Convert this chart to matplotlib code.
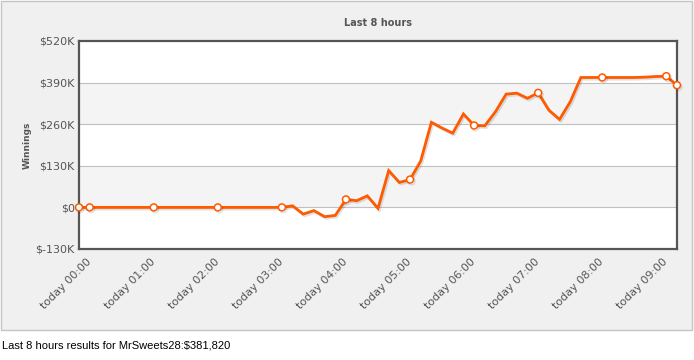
import matplotlib
matplotlib.use("Agg")
import matplotlib.pyplot as plt
import matplotlib.patheffects as pe
from matplotlib.patches import Rectangle

# datos: minutos desde las 00:00, ganancias en miles de $
minutos = list(range(-10, 551, 10))
ganancias = [0, 0,
             0, 0, 0, 0, 0,           # 00:10 - 00:50
             0, 0, 0, 0, 0, 0,        # 01:00 - 01:50
             0, 0, 0, 0, 0, 0,        # 02:00 - 02:50
             0, 5, -21, -10, -29, -25,  # 03:00 - 03:50
             25, 21, 36, -3, 115, 78,   # 04:00 - 04:50
             87, 145, 266, 248, 232, 292,  # 05:00 - 05:50
             256, 255, 299, 354, 357, 341,  # 06:00 - 06:50
             358, 304, 275, 330, 406, 406,  # 07:00 - 07:50
             406, 406, 406, 406, 407, 409,  # 08:00 - 08:50
             410, 381.82]                   # 09:00 - 09:10
horas = list(range(0, 10))
etiquetas_x = ["today {:02d}:00".format(h) for h in horas]
ticks_y = [-130, 0, 130, 260, 390, 520]
etiquetas_y = ["$-130K", "$0", "$130K", "$260K", "$390K", "$520K"]

naranja = "#ff5a00"
gris_texto = "#555555"

fig = plt.figure(figsize=(6.94, 3.60), dpi=100)
fig.patch.set_facecolor("white")

# panel de fondo
fig.patches.append(Rectangle((1 / 694, 1 - 330 / 360), 691 / 694, 329 / 360,
                             transform=fig.transFigure, facecolor="#eff0ef",
                             edgecolor="#c4c4c4", lw=1.0, zorder=0))

ax = fig.add_axes([79 / 694, 1 - 249 / 360, (677 - 79) / 694, (249 - 41) / 360])
ax.set_facecolor("white")
ax.set_zorder(1)

# bandas alternas y rejilla
for y0, y1 in [(0, 130), (260, 390)]:
    ax.axhspan(y0, y1, color="#f4f4f4", lw=0, zorder=0)
for y in [0, 130, 260, 390]:
    ax.axhline(y, color="#c0c0c0", lw=0.8, zorder=1)

marcas = [i for i, m in enumerate(minutos) if m % 60 == 0 or i == 0 or i == len(minutos) - 1]
ax.plot(minutos, ganancias, color=naranja, lw=2.0, zorder=3,
        marker="o", markevery=marcas, markersize=5, markerfacecolor="white",
        markeredgecolor=naranja, markeredgewidth=1.1, clip_on=False,
        solid_joinstyle="miter",
        path_effects=[pe.SimpleLineShadow(offset=(1, -1.2), alpha=0.12), pe.Normal()])

ax.set_xlim(-10, 550)
ax.set_ylim(-130, 520)
ax.set_xticks([h * 60 for h in horas])
ax.set_xticklabels(etiquetas_x, rotation=45, ha="right", va="center",
                   rotation_mode="anchor", fontsize=8, color=gris_texto)
ax.set_yticks(ticks_y)
ax.set_yticklabels(etiquetas_y, fontsize=8, color=gris_texto)
ax.tick_params(axis="both", length=0)
ax.tick_params(axis="y", pad=3)
ax.tick_params(axis="x", pad=8)

for s in ax.spines.values():
    s.set_color(gris_texto)
    s.set_linewidth(1.6)

fig.text(378 / 694, 1 - 23 / 360, "Last 8 hours", ha="center", va="center",
         fontsize=7, fontweight="bold", color=gris_texto)
fig.text(27 / 694, 1 - 145 / 360, "Winnings", ha="center", va="center",
         rotation=90, fontsize=6.5, fontweight="bold", color=gris_texto)
fig.text(2 / 694, 1 - 345 / 360, "Last 8 hours results for MrSweets28:$381,820",
         ha="left", va="center", fontsize=8, color="black",
         family=["Liberation Sans", "DejaVu Sans"])

fig.savefig("out.png", dpi=100)
